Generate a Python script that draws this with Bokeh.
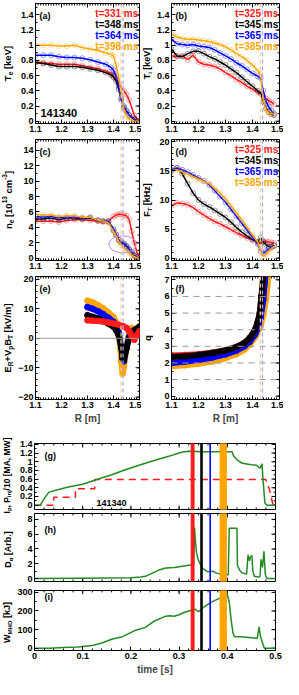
import math
import numpy as np
from bokeh.plotting import figure
from bokeh.layouts import column, row
from bokeh.models import Range1d, FixedTicker, Label, Span, BoxAnnotation, ColumnDataSource
from bokeh.core.properties import value
from bokeh.embed import file_html
from bokeh.resources import INLINE

FONT = "Liberation Sans"
RED, BLACK, BLUE, ORANGE, GREEN = "#ff1a1a", "#000000", "#0000ff", "#ffa500", "#228b22"
COLORS = [RED, BLACK, BLUE, ORANGE]

# ---------------- data ----------------
shot = "141340"
te_times = ["t=331 ms", "t=348 ms", "t=364 ms", "t=398 ms"]
ti_times = ["t=325 ms", "t=345 ms", "t=365 ms", "t=385 ms"]
band_start = [0.325, 0.345, 0.364, 0.385]
band_end = [0.331, 0.348, 0.365, 0.398]
sep_R = [1.429, 1.437]
sep_colors = ["#f5cf8f", "#a8a8ee"]

te_R = [1.10, 1.13, 1.16, 1.19, 1.22, 1.25, 1.28, 1.31, 1.34, 1.37, 1.39, 1.40, 1.41, 1.42, 1.43, 1.44, 1.45, 1.46, 1.48, 1.50]
te_331 = [0.78, 0.77, 0.76, 0.75, 0.75, 0.75, 0.73, 0.71, 0.69, 0.66, 0.63, 0.60, 0.56, 0.50, 0.44, 0.40, 0.35, 0.28, 0.08, 0.00]
te_348 = [0.77, 0.76, 0.74, 0.72, 0.72, 0.72, 0.71, 0.69, 0.67, 0.64, 0.61, 0.58, 0.53, 0.42, 0.28, 0.18, 0.13, 0.08, 0.03, 0.00]
te_364 = [0.87, 0.87, 0.87, 0.85, 0.84, 0.84, 0.83, 0.81, 0.78, 0.75, 0.71, 0.67, 0.60, 0.45, 0.30, 0.20, 0.14, 0.08, 0.02, 0.00]
te_398 = [1.00, 1.00, 1.00, 0.99, 0.99, 1.00, 0.97, 0.95, 0.93, 0.90, 0.88, 0.86, 0.74, 0.58, 0.38, 0.16, 0.07, 0.03, 0.00, 0.00]

ti_R = [1.10, 1.12, 1.14, 1.16, 1.18, 1.20, 1.22, 1.24, 1.26, 1.28, 1.30, 1.32, 1.34, 1.36, 1.38, 1.40, 1.42, 1.43, 1.44, 1.45, 1.46, 1.47, 1.48]
ti_325 = [0.86, 0.85, 0.86, 0.81, 0.87, 0.78, 0.75, 0.74, 0.72, 0.69, 0.64, 0.60, 0.55, 0.51, 0.46, 0.42, 0.38, 0.36, 0.33, 0.30, 0.27, 0.25, 0.22]
ti_345 = [0.95, 0.86, 0.85, 0.89, 0.92, 0.92, 0.89, 0.85, 0.82, 0.78, 0.74, 0.69, 0.64, 0.58, 0.52, 0.46, 0.40, 0.37, 0.26, 0.17, 0.12, 0.09, 0.08]
ti_365 = [1.08, 1.02, 1.01, 1.00, 1.01, 0.99, 0.98, 0.97, 0.94, 0.90, 0.86, 0.82, 0.77, 0.73, 0.68, 0.63, 0.59, 0.57, 0.40, 0.26, 0.19, 0.14, 0.10]
ti_385 = [1.15, 1.11, 1.09, 1.08, 1.08, 1.07, 1.06, 1.05, 1.03, 1.01, 0.98, 0.94, 0.89, 0.85, 0.80, 0.74, 0.66, 0.62, 0.28, 0.15, 0.11, 0.10, 0.10]

ne_R = [1.10, 1.13, 1.16, 1.19, 1.22, 1.25, 1.28, 1.31, 1.34, 1.36, 1.38, 1.40, 1.41, 1.42, 1.43, 1.44, 1.45, 1.46, 1.47, 1.48, 1.49, 1.50]
ne_331 = [4.8, 4.8, 4.8, 4.7, 4.9, 5.0, 5.0, 4.9, 4.8, 4.7, 4.8, 5.4, 5.6, 5.7, 5.7, 5.6, 5.5, 5.0, 3.5, 2.0, 0.8, 0.2]
ne_348 = [5.1, 5.1, 5.2, 5.0, 5.2, 5.2, 5.1, 5.2, 4.9, 4.8, 4.7, 3.6, 3.0, 2.4, 2.1, 1.9, 1.6, 1.2, 0.8, 0.4, 0.1, 0.0]
ne_364 = [5.4, 5.3, 5.4, 5.2, 5.3, 5.3, 5.2, 5.3, 4.9, 4.8, 4.8, 3.8, 3.1, 2.4, 2.0, 1.8, 1.5, 1.1, 0.7, 0.3, 0.1, 0.0]
ne_398 = [5.7, 5.6, 5.6, 5.4, 5.5, 5.5, 5.3, 5.3, 4.9, 4.8, 4.6, 3.5, 2.9, 2.2, 1.7, 1.3, 1.0, 0.7, 0.4, 0.2, 0.0, 0.0]
ellipse_x, ellipse_y, ellipse_w, ellipse_h = [1.435], [1.8], 0.105, 2.2

ft_R = [1.10, 1.12, 1.14, 1.16, 1.18, 1.20, 1.22, 1.24, 1.26, 1.28, 1.30, 1.32, 1.34, 1.36, 1.38, 1.40, 1.42, 1.43, 1.44, 1.45, 1.46, 1.47, 1.48]
ft_325 = [9.0, 9.5, 9.4, 9.2, 8.7, 8.0, 7.4, 6.8, 6.3, 5.9, 5.4, 4.9, 4.4, 3.9, 3.5, 3.1, 2.7, 2.6, 2.9, 2.9, 2.8, 2.7, 2.6]
ft_345 = [15.0, 15.5, 14.5, 12.8, 11.2, 10.0, 9.3, 8.8, 8.2, 7.6, 7.0, 6.2, 5.3, 4.5, 3.8, 3.2, 2.8, 3.5, 2.8, 2.3, 2.0, 2.0, 2.2]
ft_365 = [15.2, 15.5, 15.2, 14.8, 14.3, 13.8, 13.3, 12.6, 11.6, 10.6, 9.6, 8.4, 7.2, 6.0, 4.8, 3.6, 2.4, 1.2, 0.8, 1.2, 1.6, 1.9, 2.1]
ft_385 = [15.0, 15.2, 14.8, 14.4, 14.0, 13.6, 13.2, 12.8, 12.0, 11.2, 10.2, 9.0, 7.8, 6.6, 5.3, 4.0, 2.7, 1.2, 0.3, 0.6, 1.2, 1.7, 2.0]

er_R_325 = [1.30, 1.32, 1.34, 1.36, 1.38, 1.40, 1.42, 1.44, 1.45, 1.46, 1.47, 1.48, 1.49, 1.50]
er_325 = [6.1, 6.0, 5.9, 5.7, 5.4, 5.0, 4.6, 4.0, 3.5, 2.5, 0.8, -0.5, 1.0, 2.5]
er_R_345 = [1.30, 1.32, 1.34, 1.36, 1.38, 1.40, 1.41, 1.42, 1.43, 1.435, 1.44, 1.45, 1.46, 1.47, 1.48, 1.49, 1.50]
er_345 = [7.8, 7.3, 6.8, 6.0, 5.0, 3.9, 2.8, 1.0, -3.0, -6.5, -7.2, -3.5, 0.0, 1.5, 2.5, 3.3, 4.0]
er_R_365 = [1.30, 1.32, 1.34, 1.36, 1.38, 1.40, 1.41, 1.42, 1.43, 1.435, 1.44, 1.45, 1.46, 1.47, 1.48]
er_365 = [10.6, 10.0, 9.2, 8.2, 7.0, 5.6, 4.2, 2.0, -3.0, -7.0, -7.8, -3.0, 0.5, 2.0, 2.8]
er_R_385 = [1.30, 1.32, 1.34, 1.36, 1.38, 1.40, 1.41, 1.42, 1.425, 1.43, 1.435, 1.44, 1.45, 1.46, 1.47, 1.48]
er_385 = [12.8, 12.2, 11.3, 10.2, 8.8, 7.2, 5.5, 2.5, -2.0, -8.0, -12.0, -10.0, -3.0, 2.0, 3.5, 2.5]

q_R_a = [1.10, 1.15, 1.20, 1.25, 1.30, 1.34, 1.37, 1.39, 1.41, 1.42, 1.427, 1.433, 1.439, 1.442]
q_325 = [2.45, 2.48, 2.52, 2.62, 2.76, 2.96, 3.20, 3.50, 4.00, 4.50, 5.00, 6.00, 7.00, 7.60]
q_345 = [2.35, 2.40, 2.48, 2.60, 2.75, 2.95, 3.20, 3.50, 4.00, 4.50, 5.00, 6.00, 7.00, 7.60]
q_R_365 = [1.10, 1.15, 1.20, 1.25, 1.30, 1.34, 1.37, 1.39, 1.41, 1.42, 1.43, 1.44, 1.445, 1.45]
q_365 = [2.00, 2.08, 2.18, 2.32, 2.52, 2.74, 3.00, 3.28, 3.72, 4.10, 4.70, 5.80, 6.80, 7.50]
q_R_385 = [1.10, 1.15, 1.20, 1.25, 1.30, 1.34, 1.37, 1.39, 1.41, 1.43, 1.44, 1.45, 1.455, 1.46]
q_385 = [1.80, 1.86, 1.95, 2.08, 2.28, 2.52, 2.80, 3.10, 3.55, 4.20, 4.90, 5.80, 6.60, 7.50]
q_levels = [1, 2, 3, 4, 5, 6]

t_ip = [0.0, 0.012, 0.02, 0.03, 0.05, 0.07, 0.10, 0.126, 0.16, 0.19, 0.22, 0.255, 0.28, 0.30, 0.31, 0.32, 0.35, 0.38,
        0.41, 0.413, 0.42, 0.43, 0.44, 0.45, 0.46, 0.468, 0.472, 0.474, 0.478, 0.482, 0.5]
ip = [0.0, 0.0, 0.15, 0.30, 0.36, 0.42, 0.48, 0.58, 0.70, 0.82, 0.93, 1.05, 1.13, 1.20, 1.23, 1.24, 1.23, 1.23,
      1.23, 1.13, 1.05, 0.97, 0.95, 0.93, 0.92, 0.85, 0.95, 0.60, 0.05, 0.0, 0.0]
t_pinj = [0.0, 0.04, 0.04, 0.085, 0.085, 0.125, 0.125, 0.48, 0.487, 0.495, 0.5]
pinj10 = [0.0, 0.0, 0.18, 0.18, 0.38, 0.38, 0.59, 0.59, 0.38, 0.0, 0.0]

t_da = [0.0, 0.10, 0.20, 0.22, 0.23, 0.24, 0.25, 0.26, 0.27, 0.28, 0.29, 0.30, 0.31, 0.32, 0.328, 0.330, 0.332, 0.334,
        0.336, 0.34, 0.345, 0.35, 0.355, 0.36, 0.365, 0.37, 0.375, 0.38, 0.39, 0.397, 0.402, 0.404, 0.42, 0.421, 0.425,
        0.43, 0.44, 0.443, 0.446, 0.448, 0.451, 0.453, 0.456, 0.465, 0.468, 0.47, 0.473, 0.476, 0.479, 0.482, 0.5]
d_alpha = [0.0, 0.05, 0.1, 0.2, 0.3, 0.6, 0.9, 1.2, 1.4, 1.45, 1.5, 1.6, 1.7, 1.8, 1.85, 1.9, 6.9, 5.0,
           3.5, 2.5, 1.8, 1.3, 1.1, 0.9, 1.0, 1.0, 0.8, 0.7, 0.6, 0.5, 0.5, 6.8, 6.8, 1.8, 1.2,
           0.8, 0.6, 3.2, 2.4, 2.9, 3.1, 1.0, 0.3, 0.2, 0.3, 2.6, 1.5, 3.7, 0.5, 0.0, 0.0]

t_w = [0.0, 0.03, 0.06, 0.09, 0.12, 0.14, 0.16, 0.18, 0.19, 0.21, 0.23, 0.25, 0.27, 0.28, 0.29, 0.30, 0.31, 0.32,
       0.327, 0.333, 0.34, 0.353, 0.365, 0.372, 0.385, 0.392, 0.399, 0.404, 0.408, 0.412, 0.415, 0.43, 0.445,
       0.455, 0.462, 0.466, 0.469, 0.473, 0.477, 0.5]
w_mhd = [0, 0, 4, 7, 15, 28, 48, 60, 72, 97, 112, 148, 170, 175, 172, 180, 192, 200,
         205, 210, 196, 224, 245, 254, 269, 280, 298, 250, 150, 80, 62, 62, 58,
         55, 52, 115, 60, 30, 0, 0]

R_ticks = [1.1, 1.2, 1.3, 1.4, 1.5]
t_ticks = [0.0, 0.1, 0.2, 0.3, 0.4, 0.5]
kev_ticks = [0.0, 0.2, 0.4, 0.6, 0.8, 1.0, 1.2, 1.4]
ne_ticks = [0, 2, 4, 6, 8, 10, 12, 14]
ft_ticks = [0, 5, 10, 15, 20]
er_ticks = [-20, -10, 0, 10, 20]
q_ticks = [0, 1, 2, 3, 4, 5, 6, 7]
ip_ticks = [0.0, 0.2, 0.4, 0.6, 0.8, 1.0, 1.2, 1.4]
da_ticks = [0, 2, 4, 6, 8]
w_ticks = [0, 100, 200, 300]

# ---------------- helpers ----------------
CW = {' ': .278, '[': .333, ']': .333, '(': .333, ')': .333, ',': .278, '.': .278, '/': .278, '+': .584,
      '-': .333, '=': .584, 'A': .722, 'B': .722, 'D': .722, 'E': .667, 'F': .611, 'H': .722, 'I': .278,
      'M': .833, 'P': .667, 'R': .722, 'T': .611, 'V': .667, 'W': .944, 'a': .556, 'b': .611, 'c': .556,
      'e': .556, 'i': .278, 'j': .278, 'k': .556, 'm': .889, 'n': .611, 'p': .611, 'q': .611, 'r': .389,
      's': .556, 't': .333, 'u': .611, 'v': .556, 'z': .5, 'J': .556, 'G': .778, 'S': .667}
for d in "0123456789":
    CW[d] = .556

FRAME = {}


def tw(s, fs):
    return sum(CW.get(c, 0.6) for c in s) * fs


def label_fig(W, H, labels):
    """Narrow figure holding rotated axis titles (with sub/superscripts)."""
    p = figure(width=W, height=H, x_range=Range1d(0, W), y_range=Range1d(0, H),
               output_backend="svg", toolbar_location=None, x_axis_location=None, y_axis_location=None,
               min_border_left=0, min_border_right=0, min_border_top=0, min_border_bottom=0)
    p.xgrid.visible = False
    p.ygrid.visible = False
    p.outline_line_color = None
    p.border_fill_color = 'white'
    p.background_fill_color = 'white'
    xs, ys, ts, fss = [], [], [], []
    for segs, xc, yc, size in labels:
        sizes = [size * (0.68 if k != 'n' else 1.0) for _, k in segs]
        total = sum(tw(t, fs) for (t, _), fs in zip(segs, sizes))
        y = yc - total / 2
        for (t, k), fs in zip(segs, sizes):
            lead = len(t) - len(t.lstrip(' '))
            y += tw(' ' * lead, fs)
            txt = t.strip(' ')
            dx = {'n': 0.0, 'sub': 0.32 * size, 'sup': -0.38 * size}[k]
            xs.append(xc + dx)
            ys.append(y)
            ts.append(txt)
            fss.append(f"{fs:.1f}px")
            y += tw(txt, fs)
            trail = len(t) - len(t.rstrip(' '))
            y += tw(' ' * trail, fs)
    src = ColumnDataSource(dict(x=xs, y=ys, text=ts, fs=fss))
    p.text(x='x', y='y', text='text', source=src, angle=math.pi / 2, text_align='left',
           text_baseline='middle', text_font=value(FONT), text_font_style='bold',
           text_font_size='fs', text_color='black')
    return p


def style_axis(ax, ticks, minor):
    ax.ticker = FixedTicker(ticks=ticks, minor_ticks=minor)
    ax.major_tick_in = 4
    ax.major_tick_out = 0
    ax.minor_tick_in = 2
    ax.minor_tick_out = 0
    ax.axis_line_color = 'black'
    ax.major_tick_line_color = 'black'
    ax.minor_tick_line_color = 'black'
    ax.major_label_text_font = FONT
    ax.major_label_text_font_style = 'bold'
    ax.major_label_text_color = 'black'
    ax.major_label_text_font_size = '9px'
    ax.major_label_standoff = 2


def edge_ticks(p, xr, yr, fw, fh, xt, xm, yt, ym, bottom=False):
    """Inward tick marks on the top/right (and optionally bottom) frame edges."""
    xs = (xr[1] - xr[0]) / fw
    ysp = (yr[1] - yr[0]) / fh
    x0, x1, y0, y1 = [], [], [], []
    for ticks, L in ((xt, 4), (xm, 2)):
        for t in ticks:
            x0.append(t); x1.append(t); y0.append(yr[1]); y1.append(yr[1] - L * ysp)
            if bottom:
                x0.append(t); x1.append(t); y0.append(yr[0]); y1.append(yr[0] + L * ysp)
    for ticks, L in ((yt, 4), (ym, 2)):
        for t in ticks:
            y0.append(t); y1.append(t); x0.append(xr[1]); x1.append(xr[1] - L * xs)
    p.segment(x0=x0, y0=y0, x1=x1, y1=y1, line_color='black', line_width=1)


def mkfig(W, H, xr, yr, mb, xt, xm, yt, ym, bottom_axis=True, xtitle=None):
    p = figure(width=W, height=H, x_range=Range1d(*xr), y_range=Range1d(*yr),
               output_backend="svg", toolbar_location=None,
               x_axis_location='below' if bottom_axis else None, y_axis_location='left',
               min_border_left=mb[0], min_border_right=mb[1], min_border_top=mb[2], min_border_bottom=mb[3])
    p.xgrid.visible = False
    p.ygrid.visible = False
    p.outline_line_color = 'black'
    p.background_fill_color = 'white'
    p.border_fill_color = 'white'
    if bottom_axis:
        style_axis(p.xaxis[0], xt, xm)
        if xtitle:
            ax = p.xaxis[0]
            ax.axis_label = xtitle
            ax.axis_label_text_font = FONT
            ax.axis_label_text_font_style = 'bold'
            ax.axis_label_text_font_size = '10px'
            ax.axis_label_standoff = 2
    style_axis(p.yaxis[0], yt, ym)
    fw = W - mb[0] - mb[1]
    fh = H - mb[2] - mb[3]
    FRAME[id(p)] = (fw, fh, mb, xr)
    edge_ticks(p, xr, yr, fw, fh, xt, xm, yt, ym, bottom=not bottom_axis)
    return p


def fw(p):
    return FRAME[id(p)][0]


def fh(p):
    return FRAME[id(p)][1]


def fmid(p):
    return FRAME[id(p)][2][3] + fh(p) / 2


def tag(p, text, x=4, dy=12):
    p.add_layout(Label(x=x, y=fh(p) - dy, x_units='screen', y_units='screen', text=text,
                       text_baseline='middle', text_font=FONT, text_font_style='bold',
                       text_font_size='9px', text_color='black'))


def legend(p, texts):
    xr = FRAME[id(p)][3]
    xpos = xr[1] - 0.012 * (xr[1] - xr[0])
    for i, (t, c) in enumerate(zip(texts, COLORS)):
        p.add_layout(Label(x=xpos, y=fh(p) - 10 - 11 * i, x_units='data', y_units='screen', text=t,
                           text_align='right', text_baseline='middle', text_font=FONT,
                           text_font_style='bold', text_font_size='10px', text_color=c))


def seps(p):
    for x, c in zip(sep_R, sep_colors):
        p.add_layout(Span(location=x, dimension='height', line_color=c, line_dash='4 3', line_width=1.2))


def profile(p, xs, ys, c):
    p.line(xs, ys, line_color=c, line_width=1.5)
    p.scatter(xs, ys, marker='circle', size=5, fill_color=None, line_color=c, line_alpha=0.4)


def band(p, xs, ys, c):
    p.line(xs, ys, line_color=c, line_width=6, line_cap='round', line_join='round')
    p.scatter(xs, ys, marker='circle', size=6, fill_color=c, line_color=c, line_alpha=0.5)


R_minor = list(np.round(np.arange(1.1, 1.5001, 0.01), 3))
t_minor = list(np.round(np.arange(0.0, 0.5001, 0.02), 3))

# ---------------- layout sizes ----------------
LW_L, LW_R, LW_B = 15, 12, 14
WL, WR, WB = 126, 130, 269
mbL = (17, 2)
mbR = (17, 4)
XR = (1.1, 1.5)
H1, H2, H3 = 137, 137, 153
HG, HH, HI = 84, 74, 92

# (a)
pa = mkfig(WL, H1, XR, (-0.03, 1.55), (mbL[0], mbL[1], 3, 14), R_ticks, R_minor, kev_ticks,
           list(np.round(np.arange(0, 1.55, 0.1), 2)))
seps(pa)
for ys, c in zip([te_331, te_348, te_364, te_398], COLORS):
    profile(pa, te_R, ys, c)
legend(pa, te_times)
tag(pa, "(a)")
pa.add_layout(Label(x=5, y=11, x_units='screen', y_units='screen', text=shot, text_baseline='middle',
                    text_font=FONT, text_font_style='bold', text_font_size='11px', text_color='black'))

# (b)
pb = mkfig(WR, H1, XR, (-0.03, 1.55), (mbR[0], mbR[1], 3, 14), R_ticks, R_minor, kev_ticks,
           list(np.round(np.arange(0, 1.55, 0.1), 2)))
seps(pb)
for ys, c in zip([ti_325, ti_345, ti_365, ti_385], COLORS):
    profile(pb, ti_R, ys, c)
legend(pb, ti_times)
tag(pb, "(b)")

# (c)
pc = mkfig(WL, H2, XR, (-0.3, 15.4), (mbL[0], mbL[1], 2, 14), R_ticks, R_minor, ne_ticks,
           list(range(0, 16)))
seps(pc)
for ys, c in zip([ne_331, ne_348, ne_364, ne_398], COLORS):
    profile(pc, ne_R, ys, c)
pc.ellipse(x=ellipse_x, y=ellipse_y, width=ellipse_w, height=ellipse_h, fill_color=None,
           line_color="#c08ee8", line_width=1)
tag(pc, "(c)")

# (d)
pd_ = mkfig(WR, H2, XR, (-0.4, 20.4), (mbR[0], mbR[1], 2, 14), R_ticks, R_minor, ft_ticks,
            list(range(0, 21)))
seps(pd_)
for ys, c in zip([ft_325, ft_345, ft_365, ft_385], COLORS):
    profile(pd_, ft_R, ys, c)
legend(pd_, ti_times)
tag(pd_, "(d)")

# (e)
pe = mkfig(WL, H3, XR, (-20.8, 21.0), (mbL[0], mbL[1], 2, 28), R_ticks, R_minor, er_ticks,
           list(range(-20, 21, 2)), xtitle="R [m]")
pe.add_layout(Span(location=0, dimension='width', line_color='#999999', line_width=1))
seps(pe)
band(pe, er_R_385, er_385, ORANGE)
band(pe, er_R_365, er_365, BLUE)
band(pe, er_R_345, er_345, BLACK)
band(pe, er_R_325, er_325, RED)
tag(pe, "(e)")

# (f)
pf = mkfig(WR, H3, XR, (-0.2, 7.2), (mbR[0], mbR[1], 2, 28), R_ticks, R_minor, q_ticks,
           list(np.round(np.arange(0, 7.01, 0.5), 1)), xtitle="R [m]")
for lv in q_levels:
    pf.add_layout(Span(location=lv, dimension='width', line_color='#999999', line_dash='6 5', line_width=1))
seps(pf)
band(pf, q_R_385, q_385, ORANGE)
band(pf, q_R_365, q_365, BLUE)
band(pf, q_R_a, q_325, RED)
band(pf, q_R_a, q_345, BLACK)
tag(pf, "(f)")


def time_bands(p):
    for l, r, c in zip(band_start, band_end, COLORS):
        p.add_layout(BoxAnnotation(left=l, right=r, fill_color=c, fill_alpha=1.0, line_color=c,
                                   line_alpha=1.0, line_width=1))


# (g)
pg = mkfig(WB, HG, (0, 0.5), (-0.1, 1.42), (19, 8, 16, 2), t_ticks, t_minor, ip_ticks,
           list(np.round(np.arange(0, 1.41, 0.1), 2)), bottom_axis=False)
pg.line(t_pinj, pinj10, line_color=RED, line_width=1.5, line_dash='7 5')
pg.line(t_ip, ip, line_color=GREEN, line_width=1.5)
time_bands(pg)
tag(pg, "(g)", x=10, dy=12)
pg.add_layout(Label(x=62, y=7, x_units='screen', y_units='screen', text=shot, text_baseline='middle',
                    text_font=FONT, text_font_style='bold', text_font_size='9px', text_color='black'))

# (h)
ph = mkfig(WB, HH, (0, 0.5), (-0.4, 8.8), (19, 8, 2, 4), t_ticks, t_minor, da_ticks,
           list(range(0, 9)), bottom_axis=False)
ph.line(t_da, d_alpha, line_color=GREEN, line_width=1.5)
time_bands(ph)
tag(ph, "(h)", x=10, dy=16)

# (i)
pi_ = mkfig(WB, HI, (0, 0.5), (-12, 310), (19, 8, 5, 23), t_ticks, t_minor, w_ticks,
            list(range(0, 301, 50)), xtitle="time [s]")
pi_.line(t_w, w_mhd, line_color=GREEN, line_width=1.5)
time_bands(pi_)
tag(pi_, "(i)", x=10, dy=10)

# ---------------- axis titles (tall narrow figures) ----------------
HT = H1 + H2 + H3
lab_left = label_fig(LW_L, HT, [
    ([("T", 'n'), ("e", 'sub'), (" [keV]", 'n')], 7.0, H3 + H2 + fmid(pa), 9.5),
    ([("n", 'n'), ("e", 'sub'), (" [10", 'n'), ("13", 'sup'), (" cm", 'n'), ("-3", 'sup'), ("]", 'n')],
     8.0, H3 + fmid(pc), 9.5),
    ([("E", 'n'), ("R", 'sub'), ("+V", 'n'), ("p", 'sub'), ("B", 'n'), ("T", 'sub'), (" [kV/m]", 'n')],
     6.5, fmid(pe), 9.5),
])
lab_right = label_fig(LW_R, HT, [
    ([("T", 'n'), ("i", 'sub'), (" [keV]", 'n')], 5.5, H3 + H2 + fmid(pb), 9.0),
    ([("F", 'n'), ("T", 'sub'), (" [kHz]", 'n')], 5.5, H3 + fmid(pd_), 9.0),
    ([("q", 'n')], 5.5, fmid(pf), 9.5),
])
lab_bottom = label_fig(LW_B, HG + HH + HI, [
    ([("I", 'n'), ("p", 'sub'), (", P", 'n'), ("inj", 'sub'), ("/10 [MA, MW]", 'n')], 6.0, HI + HH + 36, 8.5),
    ([("D", 'n'), ("α", 'sub'), (" [Arb.]", 'n')], 7.0, HI + fmid(ph) - 2, 9.0),
    ([("W", 'n'), ("MHD", 'sub'), (" [kJ]", 'n')], 6.5, fmid(pi_), 9.0),
])

layout = column(
    row(lab_left, column(pa, pc, pe), lab_right, column(pb, pd_, pf)),
    row(lab_bottom, column(pg, ph, pi_)),
)
p = layout
open("out.html", "w").write(file_html(p, INLINE))
